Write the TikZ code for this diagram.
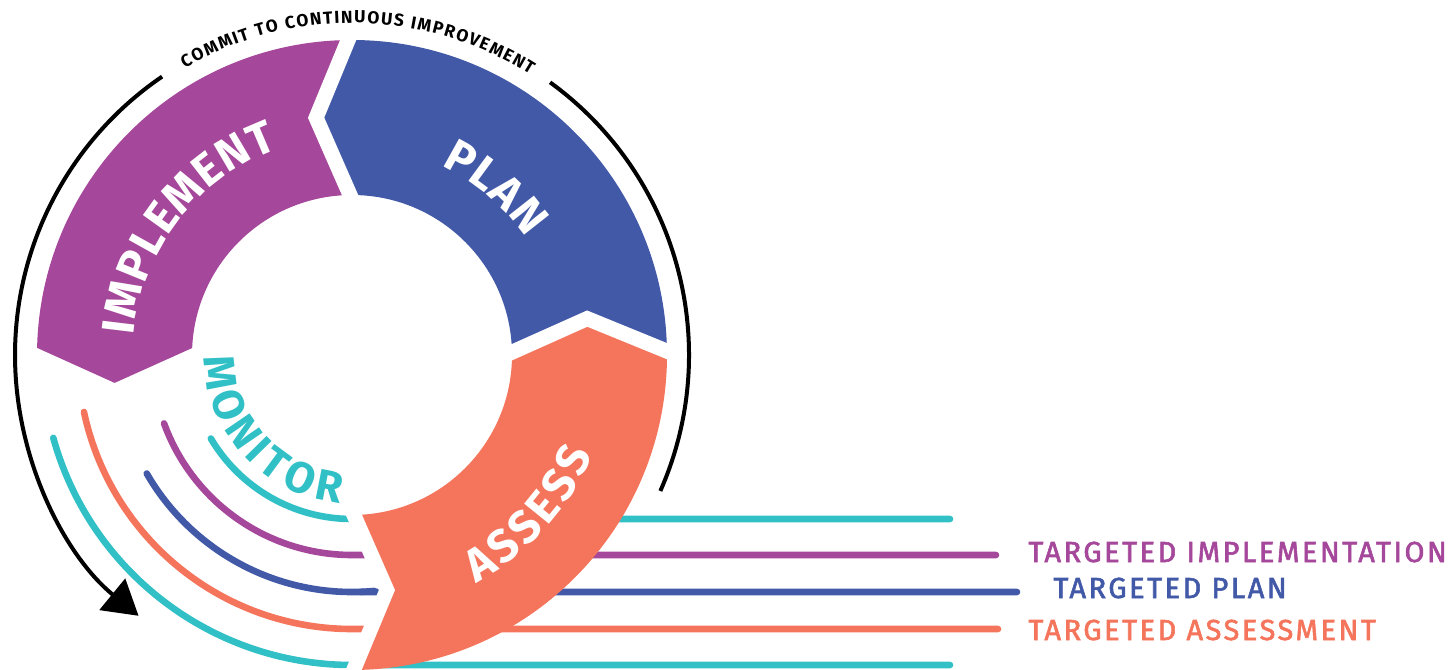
\documentclass[tikz,border=0pt]{standalone}
\usepackage{fontspec}
\setmainfont{Fira Sans}
\newfontfamily\tagfont{Fira Sans}[LetterSpace=8.6,FakeBold=2]
\usetikzlibrary{arrows.meta,decorations.text}
\definecolor{implcol}{HTML}{A5479A}
\definecolor{plancol}{HTML}{4259A8}
\definecolor{asscol}{HTML}{F4755C}
\definecolor{moncol}{HTML}{30C0C6}
\newcommand\segfont{\fontsize{23}{26}\selectfont\bfseries}
\newcommand\monfont{\fontsize{21.8}{24}\selectfont\bfseries}
\newcommand\ringfont{\fontsize{8.7}{10}\selectfont\bfseries}
\begin{document}
\begin{tikzpicture}[x=0.5pt,y=0.5pt,
      track/.style={line width=3.3pt,line cap=round},
      gap/.style={draw=white,line width=7.5pt,line cap=rect,line join=miter},
      curved/.style={decorate,decoration={text along path,text align=center,text color=#1}},
      tag/.style={anchor=base west,inner sep=0pt,font=\tagfont\fontsize{14.5}{16}\selectfont}]
   \useasboundingbox (-352,-314) rectangle (1102,355);
   % monitor tracks, running on under assess
   \foreach \col/\ang/\rad/\len in {moncol/210.6/164/598,implcol/200/200/644,plancol/210/237/665,asscol/192/274/646,moncol/195.5/310/598}
      \draw[track,\col] (\ang:\rad) arc[start angle=\ang,end angle=270,radius=\rad] -- (\len,-\rad);
   \draw[draw=white,line width=15pt,line cap=rect,line join=miter] (273.6:160) -- (280.4:239) -- (271.8:315);
   \draw[track,plancol] (272:237) arc[start angle=272,end angle=275.4,radius=237];
   % ring segments
   \fill[asscol] (271.8:315) arc[start angle=271.8,end angle=360.7,radius=315] -- (368.8:238) -- (361:160)
      arc[start angle=361,end angle=273.6,radius=160] -- (280.4:239) -- cycle;
   \fill[plancol] (90.7:315) arc[start angle=90.7,end angle=0.7,radius=315] -- (8.8:238) -- (1:160)
      arc[start angle=1,end angle=90.7,radius=160] -- (98.6:240) -- cycle;
   \fill[implcol] (90.7:315) arc[start angle=90.7,end angle=178.7,radius=315] -- (186.7:239) -- (177.5:160)
      arc[start angle=177.5,end angle=90.7,radius=160] -- (98.6:240) -- cycle;
   \draw[gap] (90.7:160) -- (98.6:240) -- (90.7:315);
   \draw[gap] (1:160) -- (8.8:238) -- (0.7:315);
   % outer cycle arrow
   \draw[line width=2pt,-{Triangle[width=20pt,length=17pt]}] (124.3:337) arc[start angle=124.3,end angle=230.7,radius=337];
   \draw[line width=2pt] (54:337) arc[start angle=54,end angle=-23.8,radius=337];
   % curved labels
   \path[curved=black,decoration={text={|\ringfont\kern0.75pt|COMMIT TO CONTINUOUS IMPROVEMENT}}] (149:332) arc[start angle=149,end angle=29,radius=332];
   \path[curved=white,decoration={text={|\segfont\kern0.5pt|IMPLEMENT}}] (202.4:219) arc[start angle=202.4,end angle=82.4,radius=219];
   \path[curved=white,decoration={text={|\segfont\kern0.5pt|PLAN}}] (109.4:209) arc[start angle=109.4,end angle=-10.6,radius=209];
   \path[curved=white,decoration={text={|\segfont\kern2pt|ASSESS}}] (-102.4:260) arc[start angle=-102.4,end angle=17.6,radius=260];
   \path[curved=moncol,decoration={text={|\monfont\kern2.6pt|MONITOR}}] (162:148) arc[start angle=162,end angle=282,radius=148];
   % targeted labels
   \node[tag,text=implcol] (tagimpl) at (676,-207) {TARGETED IMPLEMENTATION};
   \node[tag,text=plancol] (tagplan) at (701,-243) {TARGETED PLAN};
   \node[tag,text=asscol] (tagass) at (676,-285) {TARGETED ASSESSMENT};
\end{tikzpicture}
\end{document}
